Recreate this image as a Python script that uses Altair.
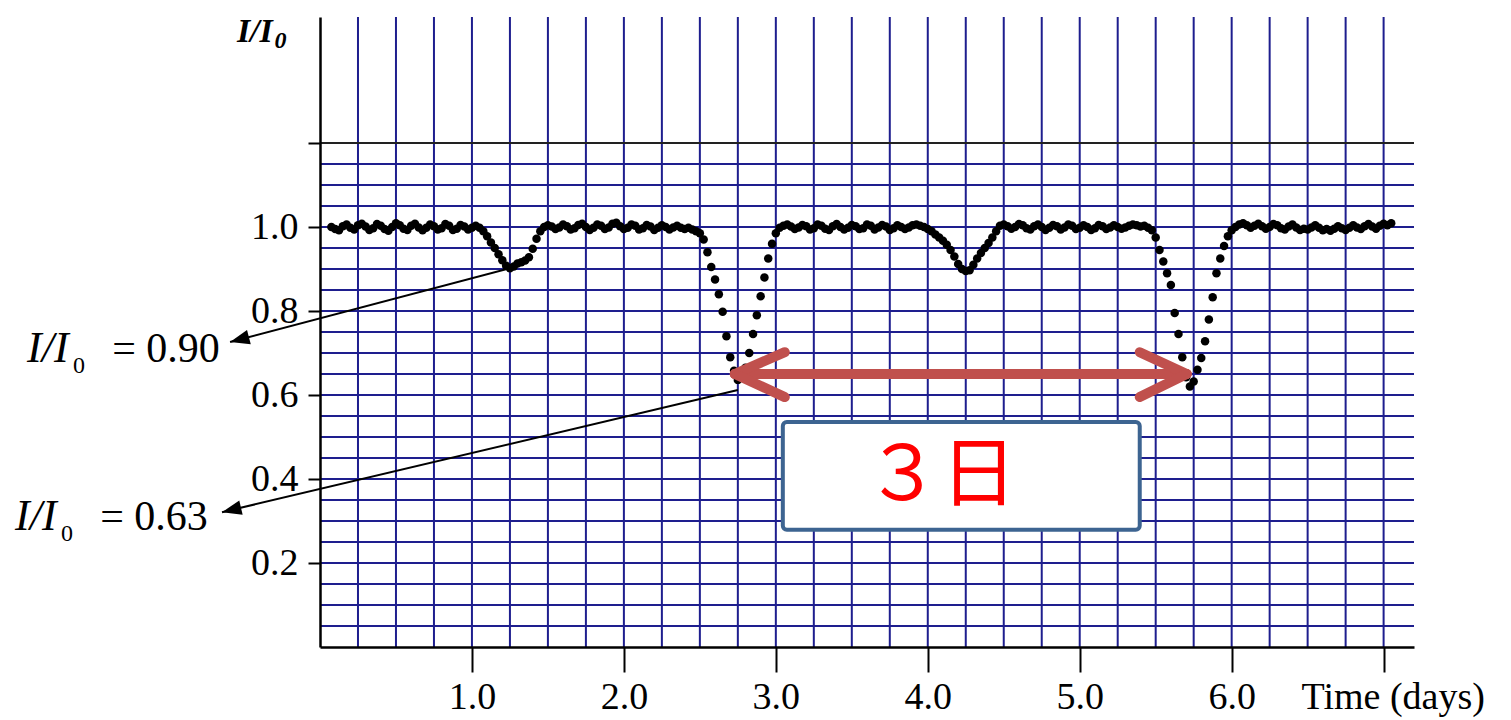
import altair as alt
import pandas as pd

# ---------------- light-curve data (time in days, relative flux I/I0) ----------------
SEG_BASE_A = [
    (0.075, 1.000), (0.100, 0.995), (0.125, 0.992), (0.150, 1.002), (0.175, 1.006),
    (0.200, 0.998), (0.225, 0.994), (0.250, 1.004), (0.275, 1.008), (0.300, 1.001),
    (0.325, 0.993), (0.350, 0.997), (0.375, 1.007), (0.400, 1.003), (0.425, 0.995),
    (0.450, 0.991), (0.475, 1.000), (0.500, 1.009), (0.525, 1.004), (0.550, 0.996),
    (0.575, 0.993), (0.600, 1.003), (0.625, 1.008), (0.650, 0.999), (0.675, 0.992),
    (0.700, 0.998), (0.725, 1.006), (0.750, 1.002), (0.775, 0.994), (0.800, 0.997),
    (0.825, 1.007), (0.850, 1.003), (0.875, 0.993), (0.900, 0.996), (0.925, 1.005),
    (0.950, 1.001), (0.975, 0.994), (1.000, 0.998), (1.025, 1.003),
]
SEG_SECONDARY_1 = [
    (1.050, 0.998), (1.075, 0.990), (1.100, 0.978), (1.125, 0.963), (1.150, 0.950),
    (1.175, 0.935), (1.200, 0.921), (1.225, 0.908), (1.250, 0.902), (1.275, 0.906),
    (1.300, 0.913), (1.325, 0.916), (1.350, 0.920), (1.375, 0.928), (1.400, 0.948),
    (1.425, 0.972), (1.450, 0.990), (1.475, 1.000),
]
SEG_BASE_B = [
    (1.500, 1.004), (1.525, 1.001), (1.550, 0.995), (1.575, 0.999), (1.600, 1.006),
    (1.625, 1.002), (1.650, 0.994), (1.675, 0.997), (1.700, 1.005), (1.725, 1.008),
    (1.750, 1.000), (1.775, 0.993), (1.800, 0.998), (1.825, 1.006), (1.850, 1.003),
    (1.875, 0.995), (1.900, 0.999), (1.925, 1.008), (1.950, 1.010), (1.975, 1.002),
    (2.000, 0.995), (2.025, 0.998), (2.050, 1.006), (2.075, 1.003), (2.100, 0.994),
    (2.125, 0.997), (2.150, 1.005), (2.175, 1.001), (2.200, 0.993), (2.225, 0.998),
    (2.250, 1.004), (2.275, 1.000), (2.300, 0.994), (2.325, 0.999), (2.350, 1.003),
    (2.375, 0.998), (2.400, 0.995), (2.425, 0.998), (2.450, 0.994),
]
SEG_PRIMARY_1 = [
    (2.475, 0.990), (2.500, 0.985), (2.525, 0.970), (2.550, 0.940), (2.575, 0.905),
    (2.600, 0.875), (2.625, 0.840), (2.650, 0.798), (2.675, 0.740), (2.700, 0.690),
    (2.725, 0.658), (2.750, 0.636), (2.775, 0.642), (2.800, 0.665), (2.825, 0.700),
    (2.850, 0.745), (2.875, 0.790), (2.900, 0.835), (2.925, 0.880), (2.950, 0.925),
    (2.975, 0.960), (3.000, 0.985),
]
SEG_BASE_C = [
    (3.025, 0.998), (3.050, 1.003), (3.075, 1.006), (3.100, 1.001), (3.125, 0.995),
    (3.150, 0.999), (3.175, 1.005), (3.200, 1.002), (3.225, 0.994), (3.250, 0.997),
    (3.275, 1.006), (3.300, 1.003), (3.325, 0.996), (3.350, 0.993), (3.375, 1.002),
    (3.400, 1.007), (3.425, 1.000), (3.450, 0.994), (3.475, 0.998), (3.500, 1.005),
    (3.525, 1.002), (3.550, 0.995), (3.575, 0.997), (3.600, 1.006), (3.625, 1.003),
    (3.650, 0.994), (3.675, 0.999), (3.700, 1.005), (3.725, 1.001), (3.750, 0.993),
    (3.775, 0.997), (3.800, 1.004), (3.825, 1.000), (3.850, 0.995), (3.875, 0.999),
    (3.900, 1.004), (3.925, 1.006), (3.950, 1.003),
]
SEG_SECONDARY_2 = [
    (3.975, 1.000), (4.000, 0.995), (4.025, 0.990), (4.050, 0.982), (4.075, 0.975),
    (4.100, 0.967), (4.125, 0.958), (4.150, 0.945), (4.175, 0.930), (4.200, 0.912),
    (4.225, 0.900), (4.250, 0.895), (4.275, 0.897), (4.300, 0.910), (4.325, 0.925),
    (4.350, 0.938), (4.375, 0.950), (4.400, 0.962), (4.425, 0.975), (4.450, 0.990),
    (4.475, 1.003),
]
SEG_BASE_D = [
    (4.500, 1.006), (4.525, 1.002), (4.550, 0.996), (4.575, 1.000), (4.600, 1.007),
    (4.625, 1.004), (4.650, 0.997), (4.675, 0.994), (4.700, 1.002), (4.725, 1.006),
    (4.750, 1.000), (4.775, 0.993), (4.800, 0.998), (4.825, 1.005), (4.850, 1.002),
    (4.875, 0.994), (4.900, 0.999), (4.925, 1.006), (4.950, 1.003), (4.975, 0.995),
    (5.000, 0.998), (5.025, 1.004), (5.050, 1.000), (5.075, 0.993), (5.100, 0.997),
    (5.125, 1.005), (5.150, 1.002), (5.175, 0.995), (5.200, 0.999), (5.225, 1.004),
    (5.250, 1.000), (5.275, 0.996), (5.300, 0.999), (5.325, 1.003), (5.350, 1.006),
    (5.375, 1.004), (5.400, 1.001), (5.425, 1.003), (5.450, 0.998),
]
SEG_PRIMARY_2 = [
    (5.475, 0.992), (5.500, 0.975), (5.525, 0.945), (5.550, 0.918), (5.575, 0.890),
    (5.600, 0.862), (5.625, 0.795), (5.650, 0.745), (5.675, 0.690), (5.700, 0.642),
    (5.725, 0.620), (5.750, 0.632), (5.775, 0.660), (5.800, 0.688), (5.825, 0.728),
    (5.850, 0.780), (5.875, 0.833), (5.900, 0.890), (5.925, 0.925), (5.950, 0.955),
    (5.975, 0.978), (6.000, 0.992),
]
SEG_BASE_E = [
    (6.025, 1.000), (6.050, 1.006), (6.075, 1.009), (6.100, 1.004), (6.125, 0.998),
    (6.150, 1.003), (6.175, 1.008), (6.200, 1.002), (6.225, 0.996), (6.250, 1.000),
    (6.275, 1.007), (6.300, 1.004), (6.325, 0.997), (6.350, 0.994), (6.375, 1.001),
    (6.400, 1.006), (6.425, 0.999), (6.450, 0.993), (6.475, 0.996), (6.500, 0.994),
    (6.525, 0.999), (6.550, 1.004), (6.575, 0.998), (6.600, 0.992), (6.625, 0.995),
    (6.650, 0.991), (6.675, 0.996), (6.700, 1.002), (6.725, 0.997), (6.750, 0.993),
    (6.775, 0.998), (6.800, 1.004), (6.825, 0.999), (6.850, 0.995), (6.875, 1.002),
    (6.900, 1.007), (6.925, 1.001), (6.950, 0.996), (6.975, 1.003), (7.000, 1.008),
    (7.025, 1.004), (7.050, 1.009),
]

# ---------------- grid / axes ----------------
GRID_T = [0.25, 0.5, 0.75, 1.0, 1.25, 1.5, 1.75, 2.0, 2.25, 2.5, 2.75, 3.0, 3.25, 3.5,
          3.75, 4.0, 4.25, 4.5, 4.75, 5.0, 5.25, 5.5, 5.75, 6.0, 6.25, 6.5, 6.75, 7.0]
GRID_V = [0.05, 0.1, 0.15, 0.2, 0.25, 0.3, 0.35, 0.4, 0.45, 0.5, 0.55, 0.6, 0.65, 0.7,
          0.75, 0.8, 0.85, 0.9, 0.95, 1.0, 1.05, 1.1, 1.15]
GRID_TOP = [1.2]
X_TICKS = [1, 2, 3, 4, 5, 6, 7]
Y_TICKS = [0.2, 0.4, 0.6, 0.8, 1.0, 1.2]
X_MAX, Y_MAX = 7.2, 1.5

# ---------------- annotations ----------------
# pointer lines: (t_start, v_start, t_tip, v_tip, head angle)
POINTERS = [(1.25, 0.902, -0.592, 0.726, 345.2), (2.75, 0.612, -0.645, 0.321, 346.7)]
LABEL_MAIN = [("I/I", -1.928, 0.679), ("I/I", -2.007, 0.2786)]
LABEL_SUB = [("0", -1.625, 0.652), ("0", -1.704, 0.252)]
LABEL_VAL = [("= 0.90", -1.368, 0.679), ("= 0.63", -1.447, 0.2786)]
# red double arrow: segments (t, v, t2, v2)
RED_ARROW = [
    (2.73, 0.65, 5.704, 0.65),
    (2.73, 0.65, 3.059, 0.702), (2.73, 0.65, 3.059, 0.595),
    (5.704, 0.65, 5.395, 0.702), (5.704, 0.65, 5.395, 0.595),
]
BOX = [(3.046, 0.536, 5.395, 0.279)]
BOX_TEXT = [("３日", 4.086, 0.405)]
TITLE_MAIN = [("I/I", -0.547, 1.440)]
TITLE_SUB = [("0", -0.300, 1.426)]
XTITLE = [("Time (days)", 6.46, -0.148)]

SERIF = "Liberation Serif"
GRID_COLOR = "#1E1E8E"

segments = [SEG_BASE_A, SEG_SECONDARY_1, SEG_BASE_B, SEG_PRIMARY_1, SEG_BASE_C,
            SEG_SECONDARY_2, SEG_BASE_D, SEG_PRIMARY_2, SEG_BASE_E]
curve = pd.DataFrame([p for s in segments for p in s], columns=["t", "v"])

xs = alt.Scale(domain=[0, X_MAX], nice=False, zero=False)
ys = alt.Scale(domain=[0, Y_MAX], nice=False, zero=False)

vgrid = pd.DataFrame({"t": GRID_T, "v0": [0] * len(GRID_T), "v1": [Y_MAX] * len(GRID_T)})
hgrid = pd.DataFrame({"v": GRID_V, "t0": [0] * len(GRID_V), "t1": [X_MAX] * len(GRID_V)})
htop = pd.DataFrame({"v": GRID_TOP, "t0": [0], "t1": [X_MAX]})

x_axis = alt.Axis(values=X_TICKS, title=None, grid=False,
                  labelExpr="datum.value == 7 ? '' : format(datum.value, '.1f')",
                  tickSize=25, tickWidth=2, tickColor="black",
                  domainColor="black", domainWidth=2.5,
                  labelFont=SERIF, labelFontSize=38, labelColor="black",
                  labelPadding=6, labelFlush=False, labelOverlap=False, zindex=1)
y_axis = alt.Axis(values=Y_TICKS, title=None, grid=False,
                  labelExpr="datum.value > 1.1 ? '' : format(datum.value, '.1f')",
                  tickSize=12, tickWidth=2, tickColor="black",
                  domainColor="black", domainWidth=2.5,
                  labelFont=SERIF, labelFontSize=38, labelColor="black",
                  labelPadding=10, labelFlush=False, labelOverlap=False, zindex=1)

def X(field):
    return alt.X(field, scale=xs, axis=x_axis)

def Y(field):
    return alt.Y(field, scale=ys, axis=y_axis)

vg = alt.Chart(vgrid).mark_rule(color=GRID_COLOR, strokeWidth=2).encode(
    x=X("t:Q"), y=Y("v0:Q"), y2="v1:Q",
)
hg = alt.Chart(hgrid).mark_rule(color=GRID_COLOR, strokeWidth=2).encode(
    y=Y("v:Q"), x=X("t0:Q"), x2="t1:Q",
)
ht = alt.Chart(htop).mark_rule(color="#222222", strokeWidth=2).encode(
    y=Y("v:Q"), x=X("t0:Q"), x2="t1:Q",
)

dots = alt.Chart(curve).mark_circle(size=72, color="black", opacity=1).encode(
    x=X("t:Q"), y=Y("v:Q"),
)

ptr = pd.DataFrame(POINTERS, columns=["t", "v", "t2", "v2", "ang"])
ptr_lines = alt.Chart(ptr).mark_rule(color="black", strokeWidth=2).encode(
    x=X("t:Q"), y=Y("v:Q"), x2="t2:Q", y2="v2:Q",
)
ptr_heads = alt.Chart(ptr).mark_point(
    shape="M0,0L2,-0.75L2,0.75Z", filled=True, color="black", opacity=1, size=380
).encode(
    x=X("t2:Q"), y=Y("v2:Q"), angle=alt.Angle("ang:Q", scale=None),
)

def text_layer(rows, **kw):
    df = pd.DataFrame(rows, columns=["txt", "t", "v"])
    return alt.Chart(df).mark_text(**kw).encode(
        x=X("t:Q"), y=Y("v:Q"), text="txt:N",
    )

lab_main = text_layer(LABEL_MAIN, font=SERIF, fontSize=44, fontStyle="italic",
                      align="left", baseline="alphabetic", color="black")
lab_sub = text_layer(LABEL_SUB, font=SERIF, fontSize=24,
                     align="left", baseline="alphabetic", color="black")
lab_val = text_layer(LABEL_VAL, font=SERIF, fontSize=42,
                     align="left", baseline="alphabetic", color="black")

red = pd.DataFrame(RED_ARROW, columns=["t", "v", "t2", "v2"])
red_arrow = alt.Chart(red).mark_rule(color="#C0504D", strokeWidth=10, strokeCap="round").encode(
    x=X("t:Q"), y=Y("v:Q"), x2="t2:Q", y2="v2:Q",
)

box = pd.DataFrame(BOX, columns=["t", "v", "t2", "v2"])
box_rect = alt.Chart(box).mark_rect(fill="white", stroke="#3D6491", strokeWidth=4,
                                    cornerRadius=4).encode(
    x=X("t:Q"), y=Y("v:Q"), x2="t2:Q", y2="v2:Q",
)
box_txt = text_layer(BOX_TEXT, font="Noto Sans CJK JP", fontSize=76, color="#FF0000",
                     align="center", baseline="middle")

title_main = text_layer(TITLE_MAIN, font=SERIF, fontSize=34, fontStyle="italic",
                        fontWeight="bold", align="left", baseline="alphabetic", color="black")
title_sub = text_layer(TITLE_SUB, font=SERIF, fontSize=24, fontStyle="italic",
                       fontWeight="bold", align="left", baseline="alphabetic", color="black")
x_title = text_layer(XTITLE, font=SERIF, fontSize=38, align="left",
                     baseline="alphabetic", color="black")

chart = alt.layer(
    vg, hg, ht, dots, ptr_lines, ptr_heads, lab_main, lab_sub, lab_val,
    red_arrow, box_rect, box_txt, title_main, title_sub, x_title,
).properties(
    width=1094, height=630,
    padding={"left": 320, "top": 17, "right": 97, "bottom": 73},
    autosize=alt.AutoSizeParams(type="none"),
    background="white",
).configure_view(stroke=None)

chart.save("out.html", embed_options={"renderer": "svg", "actions": False})
